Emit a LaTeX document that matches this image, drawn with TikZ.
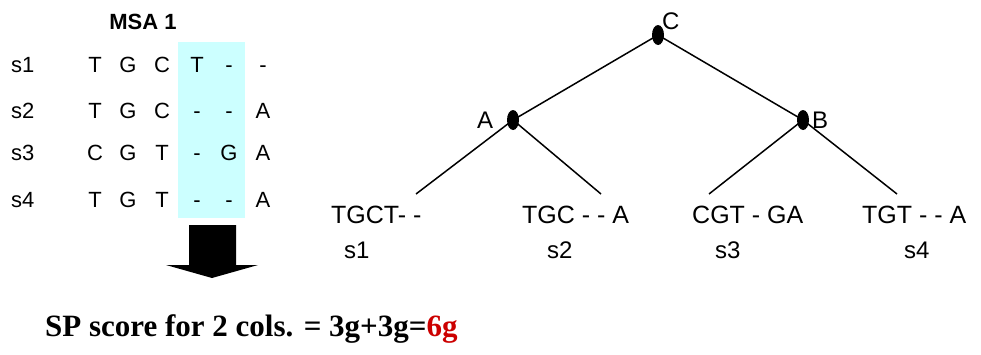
\documentclass[tikz,border=0pt]{standalone}
\usepackage{fontspec}
\usetikzlibrary{shapes.geometric}
\setmainfont{Liberation Sans}
\newfontfamily\timesfont{Liberation Serif}
\definecolor{colcyan}{HTML}{CCFFFF}
\definecolor{scorered}{HTML}{CC0000}
\begin{document}
\begin{tikzpicture}[x=1pt,y=-1pt,
  msa/.style={font=\fontsize{22}{26}\selectfont, anchor=base, inner sep=0pt},
  lbl/.style={font=\fontsize{22}{26}\selectfont, anchor=base west, inner sep=0pt},
  leaf/.style={font=\fontsize{24}{28}\selectfont, anchor=base west, inner sep=0pt},
  seq/.style={font=\fontsize{25}{29}\selectfont, anchor=base west, inner sep=0pt},
  tnode/.style={ellipse, fill=black, minimum width=12pt, minimum height=20pt, inner sep=0pt},
  tlbl/.style={font=\fontsize{24}{28}\selectfont, anchor=base west, inner sep=0pt},
  edge/.style={line width=1.5pt}]
\useasboundingbox (0,0) rectangle (981,354);
% highlighted columns
\fill[colcyan] (178,42) rectangle (245,218);
\node[font=\fontsize{22}{26}\selectfont\bfseries, anchor=base, inner sep=0pt] (title) at (143,29) {MSA 1};
% row labels
\node[lbl] (r1) at (11,72) {s1};
\node[lbl] (r2) at (11,118) {s2};
\node[lbl] (r3) at (11,160) {s3};
\node[lbl] (r4) at (11,207) {s4};
% columns
\foreach \x/\a/\b/\c/\d in {95/T/T/C/T, 128/G/G/G/G, 162/C/C/T/T, 197/T/-/-/-, 229/-/-/G/-, 263/-/A/A/A}{
  \node[msa] at (\x,72) {\a};
  \node[msa] at (\x,118) {\b};
  \node[msa] at (\x,160) {\c};
  \node[msa] at (\x,207) {\d};
}
% block arrow
\fill[black] (189,225) -- (236,225) -- (236,265) -- (258,265) -- (212,278) -- (166,265) -- (189,265) -- cycle;
% score
\node[font=\fontsize{31}{36}\timesfont\bfseries, anchor=base west, inner sep=0pt] (score) at (45,336) {SP score for 2 cols. = 3g+3g=\textcolor{scorered}{6g}};
% tree
\node[tnode] (C) at (658,35) {};
\node[tnode] (A) at (513,120) {};
\node[tnode] (B) at (803,120) {};
\node[tlbl] (Cl) at (662,29) {C};
\node[tlbl] (Al) at (477,128) {A};
\node[tlbl] (Bl) at (812,128) {B};
\coordinate (e1) at (416,194);
\coordinate (e2) at (601,194);
\coordinate (e3) at (709,194);
\coordinate (e4) at (897,194);
\draw[edge] (C.center) -- (A.center);
\draw[edge] (C.center) -- (B.center);
\draw[edge] (A.center) -- (e1);
\draw[edge] (A.center) -- (e2);
\draw[edge] (B.center) -- (e3);
\draw[edge] (B.center) -- (e4);
% leaves
\node[seq] (l1) at (331,223) {TGCT- -};
\node[seq] (l2) at (522,223) {TGC - - A};
\node[seq] (l3) at (692,223) {CGT - GA};
\node[seq] (l4) at (862,223) {TGT - - A};
\node[leaf] (n1) at (344,258) {s1};
\node[leaf] (n2) at (547,258) {s2};
\node[leaf] (n3) at (715,258) {s3};
\node[leaf] (n4) at (904,258) {s4};
\end{tikzpicture}
\end{document}
